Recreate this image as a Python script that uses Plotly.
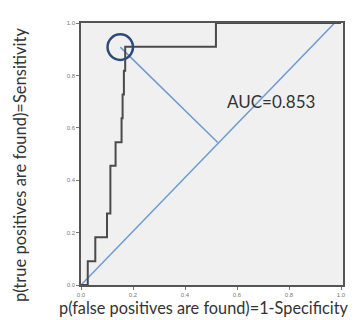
import plotly.graph_objects as go

# ROC curve points (step function, horizontal then vertical)
fpr = [0.0, 0.026, 0.055, 0.100, 0.113, 0.133, 0.156, 0.160, 0.165, 0.170, 0.519, 1.0]
tpr = [0.0, 0.091, 0.182, 0.273, 0.455, 0.545, 0.636, 0.727, 0.818, 0.909, 1.0, 1.0]

# reference diagonal and perpendicular marker
diag_x = [0.0, 0.985]
diag_y = [0.0, 1.01]
perp_x = [0.151, 0.526]
perp_y = [0.908, 0.544]
best_point = (0.151, 0.908)

auc_label = "AUC=0.853"
tick_vals = [0.0, 0.2, 0.4, 0.6, 0.8, 1.0]
tick_text = ["0.0", "0.2", "0.4", "0.6", "0.8", "1.0"]
x_title = "p(false positives are found)=1-Specificity"
y_title = "p(true positives are found)=Sensitivity"

fig = go.Figure()
fig.add_trace(go.Scatter(x=diag_x, y=diag_y, mode="lines",
                         line=dict(color="#6b9bd1", width=1.5), cliponaxis=False,
                         showlegend=False, hoverinfo="skip"))
fig.add_trace(go.Scatter(x=perp_x, y=perp_y, mode="lines",
                         line=dict(color="#6b9bd1", width=1.5),
                         showlegend=False, hoverinfo="skip"))
fig.add_trace(go.Scatter(x=fpr, y=tpr, mode="lines", line_shape="hv",
                         line=dict(color="#4a4a4a", width=2), cliponaxis=False,
                         showlegend=False))

r = 0.049
fig.add_shape(type="circle", xref="x", yref="y",
              x0=best_point[0] - r, x1=best_point[0] + r,
              y0=best_point[1] - r, y1=best_point[1] + r,
              line=dict(color="#2e4a7a", width=2.5))

fig.add_annotation(x=0.73, y=0.70, xref="x", yref="y", text=auc_label,
                   showarrow=False, xanchor="center", yanchor="middle",
                   font=dict(family="Lato", size=17, color="#333333"))
fig.add_annotation(x=(196 - 73) / 262, y=-(299 - 277) / 262, xref="paper", yref="paper",
                   text=x_title, showarrow=False, xanchor="center", yanchor="middle",
                   font=dict(family="Lato", size=16.3, color="#333333"))
fig.add_annotation(x=(12 - 73) / 262, y=(277 - 157) / 262, xref="paper", yref="paper",
                   text=y_title, showarrow=False, textangle=-90,
                   xanchor="center", yanchor="middle",
                   font=dict(family="Lato", size=16.5, color="#333333"))

axis_common = dict(tickvals=tick_vals, ticktext=tick_text, ticks="outside", ticklen=3,
                   tickcolor="#777777", tickfont=dict(size=6, color="#777777", family="Liberation Sans"),
                   showgrid=False, zeroline=False, showline=True, linecolor="#555555",
                   linewidth=1.5, mirror=True)
fig.update_xaxes(range=[0, 262 / 260], **axis_common)
fig.update_yaxes(range=[0, 1.0], **axis_common)

fig.update_layout(width=357, height=320, margin=dict(l=73, r=22, t=15, b=43),
                  plot_bgcolor="#f0f0f0", paper_bgcolor="white")
fig.write_html("out.html")
